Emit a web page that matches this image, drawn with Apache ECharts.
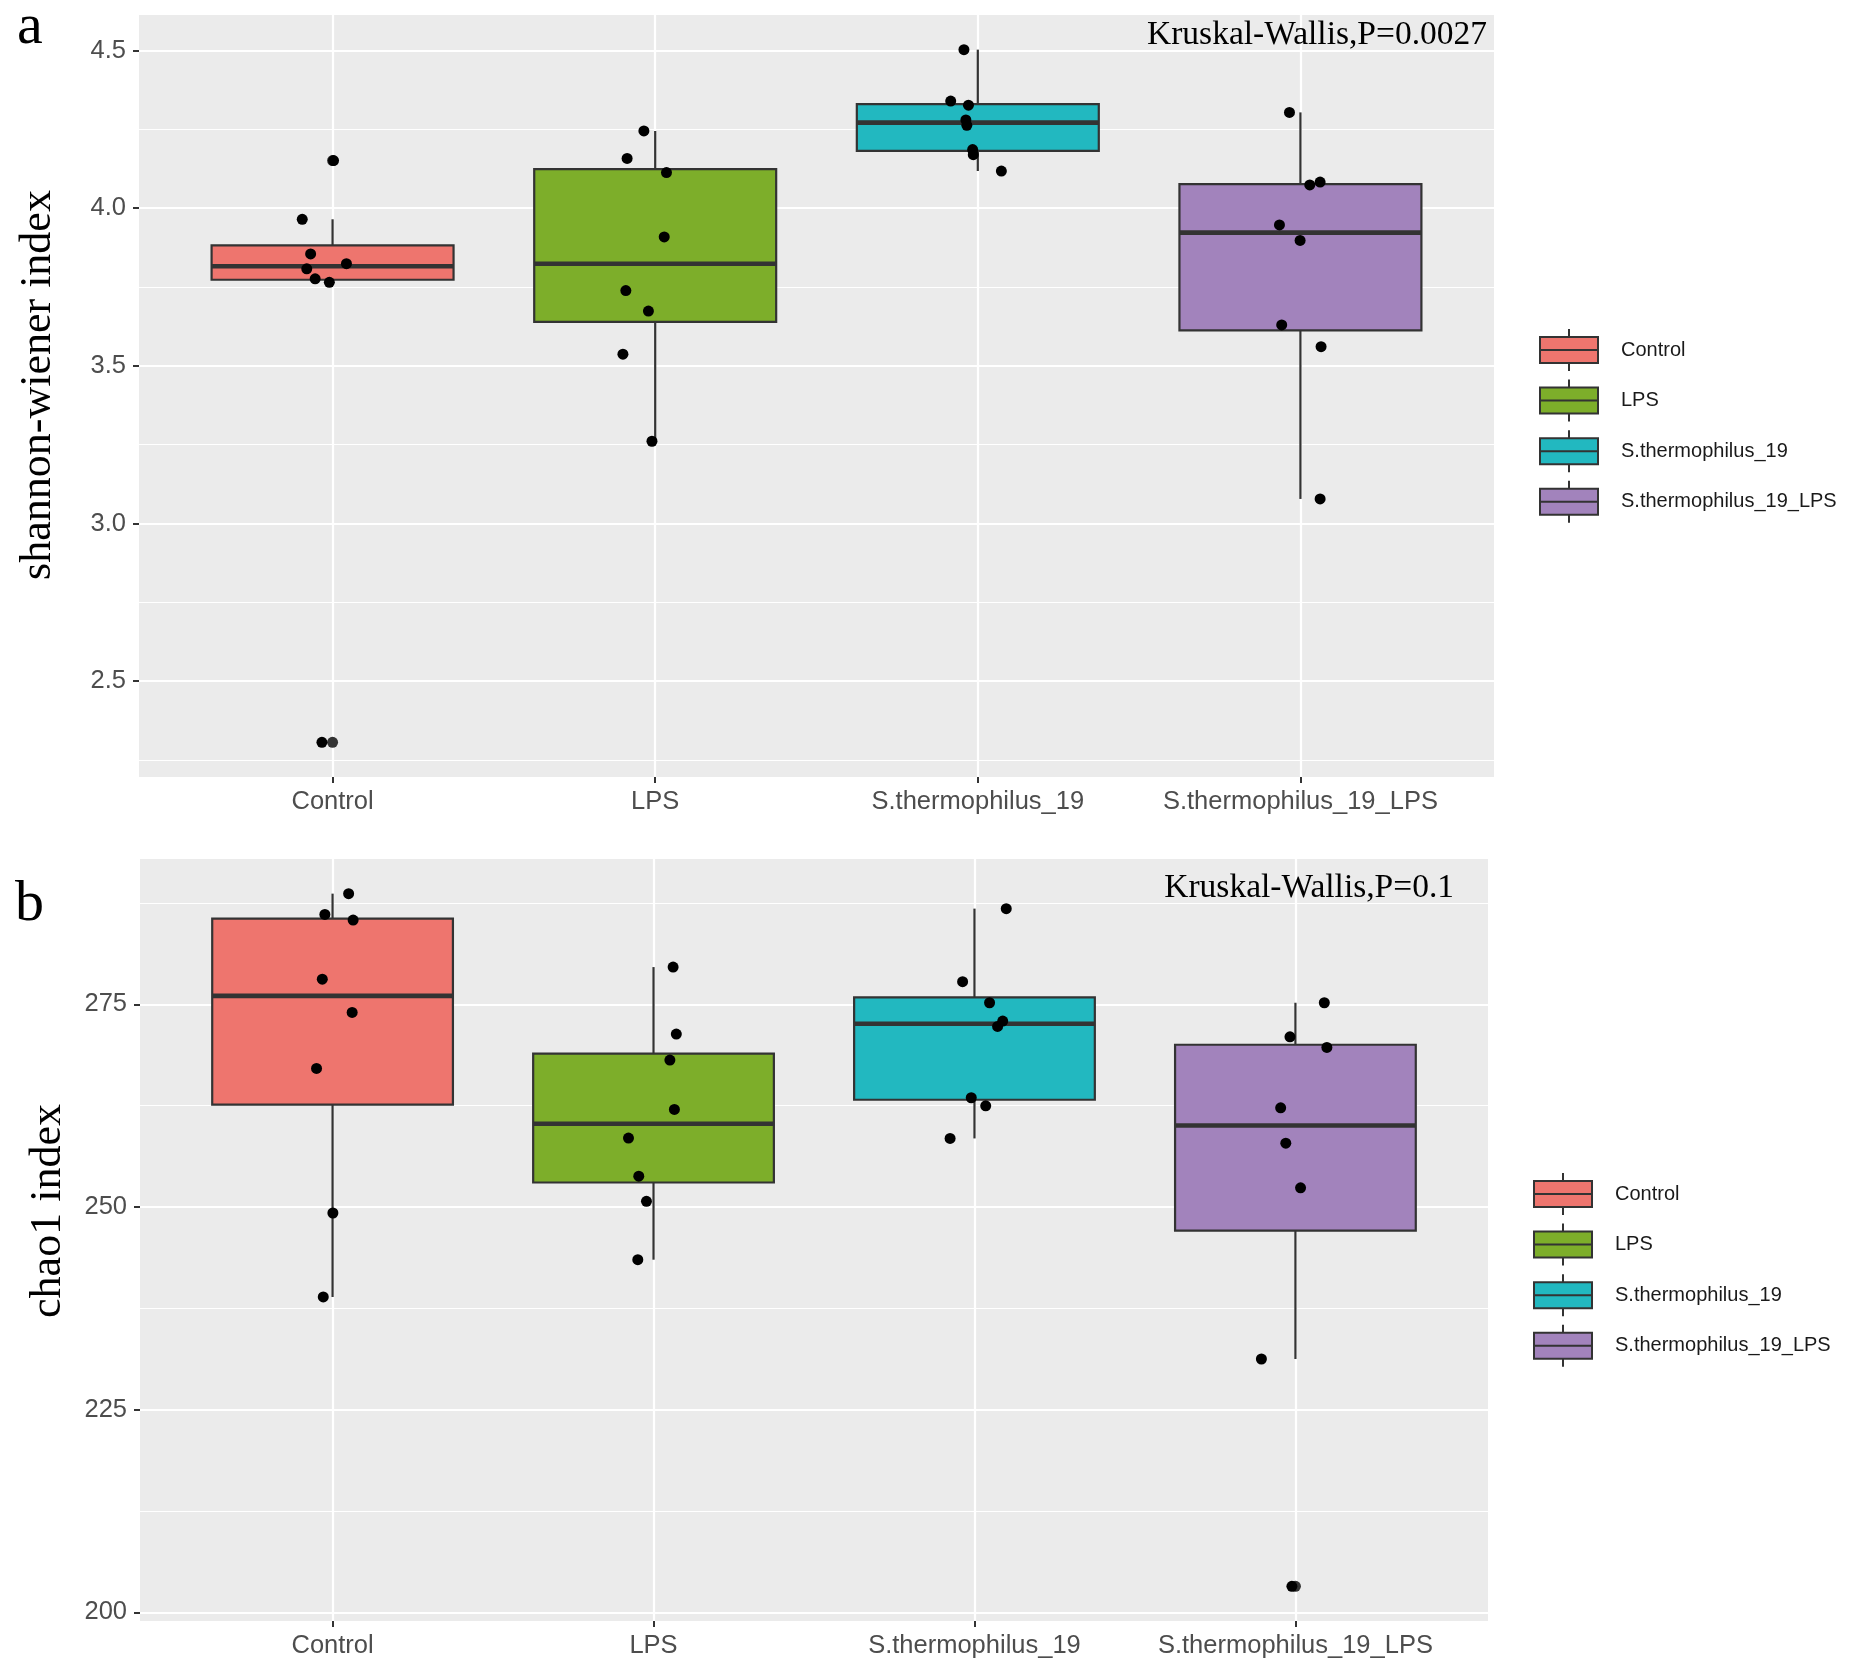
<!DOCTYPE html>
<html lang="en">
<head>
<meta charset="UTF-8">
<title>alpha diversity</title>
<script src="https://cdn.jsdelivr.net/npm/echarts@6/dist/echarts.min.js"></script>
<style>
  html, body { margin: 0; padding: 0; background: #fff; }
  #main { width: 1850px; height: 1674px; }
</style>
</head>
<body>
<div id="main"></div>
<script>
// groups and fills
var groups = ['Control', 'LPS', 'S.thermophilus_19', 'S.thermophilus_19_LPS'];
var fills = ['#EE756E', '#7DAE2A', '#22B8C0', '#A283BC'];

// panel a: shannon-wiener index (jitter = x offset in category units)
var shannonControl = [4.151, 3.965, 3.855, 3.824, 3.808, 3.776, 3.765, 2.306];
var shannonControlJit = [0.003, -0.094, -0.068, 0.043, -0.080, -0.054, -0.010, -0.033];
var shannonLPS = [4.245, 4.158, 4.113, 3.909, 3.739, 3.674, 3.537, 3.261];
var shannonLPSJit = [-0.035, -0.087, 0.035, 0.028, -0.091, -0.021, -0.100, -0.010];
var shannonST19 = [4.503, 4.340, 4.327, 4.280, 4.263, 4.186, 4.170, 4.118];
var shannonST19Jit = [-0.043, -0.084, -0.029, -0.037, -0.034, -0.016, -0.014, 0.073];
var shannonST19LPS = [4.304, 4.083, 4.074, 3.947, 3.898, 3.630, 3.561, 3.078];
var shannonST19LPSJit = [-0.034, 0.061, 0.029, -0.065, -0.001, -0.058, 0.064, 0.061];

// panel b: chao1 index
var chaoControl = [288.66, 286.1, 285.4, 278.1, 274.0, 267.1, 249.26, 238.9];
var chaoControlJit = [0.050, -0.024, 0.064, -0.032, 0.061, -0.050, 0.001, -0.029];
var chaoLPS = [279.6, 271.34, 268.13, 262.04, 258.5, 253.8, 250.7, 243.5];
var chaoLPSJit = [0.061, 0.071, 0.051, 0.065, -0.078, -0.046, -0.022, -0.049];
var chaoST19 = [286.81, 277.8, 275.2, 272.94, 272.28, 263.48, 262.49, 258.46];
var chaoST19Jit = [0.099, -0.037, 0.047, 0.088, 0.072, -0.010, 0.035, -0.076];
var chaoST19LPS = [275.2, 271.0, 269.69, 262.24, 257.88, 252.37, 231.25, 203.2];
var chaoST19LPSJit = [0.090, -0.017, 0.098, -0.046, -0.030, 0.016, -0.106, -0.011];

// tick values
var shannonTicks = [2.5, 3.0, 3.5, 4.0, 4.5];
var shannonMinor = [2.25, 2.75, 3.25, 3.75, 4.25];
var chaoTicks = [200, 225, 250, 275];
var chaoMinor = [212.5, 237.5, 262.5, 287.5];
var xTicks = [0, 1, 2, 3];

var panelA = [shannonControl, shannonLPS, shannonST19, shannonST19LPS];
var panelAJit = [shannonControlJit, shannonLPSJit, shannonST19Jit, shannonST19LPSJit];
var panelB = [chaoControl, chaoLPS, chaoST19, chaoST19LPS];
var panelBJit = [chaoControlJit, chaoLPSJit, chaoST19Jit, chaoST19LPSJit];

// quantile type 7 (same as R default)
function quant(s, p) {
    var h = (s.length - 1) * p, lo = Math.floor(h);
    var next = lo + 1 < s.length ? s[lo + 1] : s[lo];
    return s[lo] + (h - lo) * (next - s[lo]);
}
// ggplot-like box stats
function boxStats(vals) {
    var s = vals.slice().sort(function (a, b) { return a - b; });
    var q1 = quant(s, 0.25), med = quant(s, 0.5), q3 = quant(s, 0.75);
    var iqr = q3 - q1;
    var inside = s.filter(function (v) { return v >= q1 - 1.5 * iqr && v <= q3 + 1.5 * iqr; });
    var lo = inside[0], hi = inside[inside.length - 1];
    var out = s.filter(function (v) { return v < lo || v > hi; });
    return { box: [lo, q1, med, q3, hi], out: out };
}
function expandRange(sets) {
    var all = [].concat.apply([], sets);
    var mn = Math.min.apply(null, all), mx = Math.max.apply(null, all);
    var pad = (mx - mn) * 0.05;
    return [mn - pad, mx + pad];
}

var gridRects = [
    { left: 139, top: 15, width: 1355, height: 762 },
    { left: 140, top: 859, width: 1348, height: 762 }
];
var labelFont = 'Liberation Sans, Arial, sans-serif';
var serifFont = 'Liberation Serif, Times New Roman, serif';

function renderBox(params, api) {
    var x = api.value(0);
    var lo = api.coord([x, api.value(1)]);
    var q1 = api.coord([x, api.value(2)]);
    var md = api.coord([x, api.value(3)]);
    var q3 = api.coord([x, api.value(4)]);
    var hi = api.coord([x, api.value(5)]);
    var half = api.size([0.75, 0])[0] / 2;
    var c = lo[0];
    var ln = { stroke: '#333333', lineWidth: 2.2 };
    return {
        type: 'group',
        children: [
            { type: 'line', shape: { x1: c, y1: hi[1], x2: c, y2: q3[1] }, style: ln },
            { type: 'line', shape: { x1: c, y1: q1[1], x2: c, y2: lo[1] }, style: ln },
            { type: 'rect', shape: { x: c - half, y: q3[1], width: half * 2, height: q1[1] - q3[1] },
              style: { fill: api.visual('color'), stroke: '#333333', lineWidth: 2.2 } },
            { type: 'line', shape: { x1: c - half, y1: md[1], x2: c + half, y2: md[1] },
              style: { stroke: '#333333', lineWidth: 4.6 } }
        ]
    };
}

var xAxes = [], yAxes = [], series = [];
[panelA, panelB].forEach(function (panel, p) {
    var jit = p === 0 ? panelAJit : panelBJit;
    var ext = expandRange(panel);
    var ticks = p === 0 ? shannonTicks : chaoTicks;
    var minor = p === 0 ? shannonMinor : chaoMinor;
    xAxes.push({
        type: 'value', gridIndex: p, min: -0.6, max: 3.6, position: 'bottom',
        axisLine: { show: false, onZero: false },
        axisTick: { show: true, length: 6, customValues: xTicks, lineStyle: { color: '#333333', width: 2 } },
        axisLabel: { customValues: xTicks, margin: 12, color: '#4D4D4D', fontSize: 25.5, fontFamily: labelFont,
                     formatter: function (v) { return groups[Math.round(v)]; } },
        splitLine: { show: true, lineStyle: { color: '#FFFFFF', width: 2.2 } }
    });
    yAxes.push({
        type: 'value', gridIndex: p, min: ext[0], max: ext[1], position: 'left',
        axisLine: { show: false, onZero: false },
        axisTick: { show: true, length: 6, customValues: ticks, lineStyle: { color: '#333333', width: 2 } },
        axisLabel: { customValues: ticks, margin: 13, color: '#4D4D4D', fontSize: 25.5, fontFamily: labelFont,
                     formatter: function (v) { return p === 0 ? v.toFixed(1) : String(v); } },
        splitLine: { show: true, lineStyle: { color: '#FFFFFF', width: 2.2 } },
        z: 1
    });
    // minor grid lines
    yAxes.push({
        type: 'value', gridIndex: p, min: ext[0], max: ext[1], position: 'left',
        axisLine: { show: false, onZero: false },
        axisTick: { show: false, customValues: minor },
        axisLabel: { show: false, customValues: minor },
        splitLine: { show: true, lineStyle: { color: '#FFFFFF', width: 1.1 } },
        z: 0
    });
    var yMain = p * 2;
    var outPts = [], jitPts = [];
    panel.forEach(function (vals, g) {
        var st = boxStats(vals);
        series.push({
            name: groups[g], type: 'custom', xAxisIndex: p, yAxisIndex: yMain,
            itemStyle: { color: fills[g] },
            renderItem: renderBox,
            encode: { x: 0, y: [1, 2, 3, 4, 5] },
            data: [[g].concat(st.box)],
            z: 2, silent: true
        });
        st.out.forEach(function (v) { outPts.push([g, v]); });
        vals.forEach(function (v, i) { jitPts.push([g + jit[g][i], v]); });
    });
    series.push({
        name: 'outliers' + p, type: 'scatter', xAxisIndex: p, yAxisIndex: yMain,
        symbolSize: 11, itemStyle: { color: '#333333', opacity: 1 }, data: outPts, z: 3, silent: true
    });
    series.push({
        name: 'points' + p, type: 'scatter', xAxisIndex: p, yAxisIndex: yMain,
        symbolSize: 11, itemStyle: { color: '#000000', opacity: 1 }, data: jitPts, z: 4, silent: true
    });
});

var boxIcon = 'path://M0,8 L0,34 L58,34 L58,8 Z M0,21 L58,21 M29,0 L29,8 M29,34 L29,42';
function legendAt(left, top) {
    return {
        data: groups, orient: 'vertical', left: left, top: top, padding: 0,
        icon: boxIcon, itemWidth: 58, itemHeight: 42, itemGap: 6.6,
        selectedMode: false,
        itemStyle: { borderColor: '#333333', borderWidth: 2 },
        textStyle: { fontSize: 20, color: '#1A1A1A', fontFamily: labelFont, padding: [0, 0, 0, 18] }
    };
}

var chart = echarts.init(document.getElementById('main'));
chart.setOption({
    animation: false,
    backgroundColor: '#FFFFFF',
    grid: gridRects.map(function (r) {
        return { left: r.left, top: r.top, width: r.width, height: r.height,
                 show: true, backgroundColor: '#EBEBEB', borderWidth: 0 };
    }),
    xAxis: xAxes,
    yAxis: yAxes,
    legend: [legendAt(1539, 328), legendAt(1533, 1172)],
    series: series,
    graphic: [
        { type: 'text', left: 17, top: -1, style: { text: 'a', font: '58px ' + serifFont, fill: '#000' } },
        { type: 'text', left: 15, top: 876, style: { text: 'b', font: '58px ' + serifFont, fill: '#000' } },
        { type: 'text', x: 38, y: 385, rotation: Math.PI / 2,
          style: { text: 'shannon-wiener index', font: '44px ' + serifFont, fill: '#000', align: 'center', verticalAlign: 'middle' } },
        { type: 'text', x: 48, y: 1211, rotation: Math.PI / 2,
          style: { text: 'chao1 index', font: '44px ' + serifFont, fill: '#000', align: 'center', verticalAlign: 'middle' } },
        { type: 'text', x: 1487, y: 35.6, z: 10,
          style: { text: 'Kruskal-Wallis,P=0.0027', font: '33.5px ' + serifFont, fill: '#000', align: 'right', verticalAlign: 'middle' } },
        { type: 'text', x: 1454, y: 888, z: 10,
          style: { text: 'Kruskal-Wallis,P=0.1', font: '33.5px ' + serifFont, fill: '#000', align: 'right', verticalAlign: 'middle' } }
    ]
});
</script>
</body>
</html>
